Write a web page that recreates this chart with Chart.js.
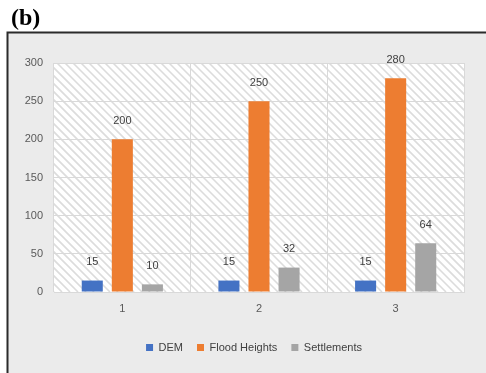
<!DOCTYPE html>
<html>
<head>
<meta charset="utf-8">
<script src="https://cdn.jsdelivr.net/npm/chart.js@4/dist/chart.umd.min.js"></script>
<style>
  html, body { margin: 0; padding: 0; background: #ffffff; }
  #wrap { position: relative; width: 486px; height: 373px; overflow: hidden; }
  #label { position: absolute; left: 11px; top: 4px; font: bold 24px "Liberation Serif", "Times New Roman", serif; color: #000; line-height: 26px; }
  canvas { position: absolute; left: 0; top: 0; }
</style>
</head>
<body>
<div id="wrap">
  <canvas id="c" width="486" height="373"></canvas>
  <div id="label">(b)</div>
</div>
<script>
const categories = ['1', '2', '3'];
const demValues = [15, 15, 15];
const floodHeights = [200, 250, 280];
const settlements = [10, 32, 64];
const yTicks = [0, 50, 100, 150, 200, 250, 300];

const bgPlugin = {
  id: 'bg',
  beforeDraw(chart) {
    const ctx = chart.ctx;
    const a = chart.chartArea;
    if (chart.legend && !chart.legend._shifted) {
      chart.legend.left += 18;
      chart.legend.right += 18;
      chart.legend._shifted = true;
    }
    ctx.save();
    ctx.fillStyle = '#ffffff';
    ctx.fillRect(0, 0, chart.width, chart.height);
    ctx.fillStyle = '#ebebeb';
    ctx.fillRect(8, 33, chart.width - 8, chart.height - 33);
    ctx.fillStyle = '#ffffff';
    ctx.fillRect(a.left, a.top, a.right - a.left, a.bottom - a.top);
    ctx.beginPath();
    ctx.rect(a.left, a.top, a.right - a.left, a.bottom - a.top);
    ctx.clip();
    ctx.strokeStyle = '#dcdcdc';
    ctx.lineWidth = 1.6;
    const h = a.bottom - a.top;
    for (let x = a.left - h; x < a.right + 8; x += 8) {
      ctx.beginPath();
      ctx.moveTo(x, a.top);
      ctx.lineTo(x + h, a.bottom);
      ctx.stroke();
    }
    ctx.restore();
    ctx.save();
    ctx.strokeStyle = '#2b2b2b';
    ctx.lineWidth = 2;
    ctx.beginPath();
    ctx.moveTo(7.5, chart.height);
    ctx.lineTo(7.5, 32.5);
    ctx.lineTo(chart.width, 32.5);
    ctx.stroke();
    ctx.restore();
  }
};

const valueLabels = {
  id: 'valueLabels',
  afterDatasetsDraw(chart) {
    const ctx = chart.ctx;
    ctx.save();
    ctx.font = '11px "Liberation Sans", Arial, sans-serif';
    ctx.fillStyle = '#404040';
    ctx.textAlign = 'center';
    ctx.textBaseline = 'middle';
    chart.data.datasets.forEach((ds, i) => {
      const meta = chart.getDatasetMeta(i);
      meta.data.forEach((bar, j) => {
        ctx.fillText(String(ds.data[j]), bar.x, bar.y - 18.5);
      });
    });
    ctx.restore();
  }
};

new Chart(document.getElementById('c'), {
  type: 'bar',
  data: {
    labels: categories,
    datasets: [
      { label: 'DEM', data: demValues, backgroundColor: '#4472C4' },
      { label: 'Flood Heights', data: floodHeights, backgroundColor: '#ED7D31' },
      { label: 'Settlements', data: settlements, backgroundColor: '#A5A5A5' }
    ]
  },
  options: {
    responsive: false,
    animation: false,
    events: [],
    datasets: { bar: { categoryPercentage: 0.66, barPercentage: 0.7 } },
    layout: { padding: { left: 8, right: 22, top: 63, bottom: 10 } },
    scales: {
      x: {
        grid: { color: '#d9d9d9', lineWidth: 1, drawTicks: false, offset: true },
        border: { color: '#d9d9d9' },
        ticks: { padding: 10, color: '#595959', font: { family: '"Liberation Sans", Arial, sans-serif', size: 11 } },
        afterFit(s) { s.height = 36; }
      },
      y: {
        min: 0, max: 300,
        afterBuildTicks(s) { s.ticks = yTicks.map(v => ({ value: v })); },
        grid: { color: '#d9d9d9', lineWidth: 1, drawTicks: false },
        border: { display: false },
        ticks: { padding: 11, color: '#595959', font: { family: '"Liberation Sans", Arial, sans-serif', size: 11 } },
        afterFit(s) { s.width = 46; }
      }
    },
    plugins: {
      legend: {
        position: 'bottom',
        labels: {
          boxWidth: 7, boxHeight: 7, padding: 14, color: '#404040',
          font: { family: '"Liberation Sans", Arial, sans-serif', size: 11 }
        }
      },
      tooltip: { enabled: false }
    }
  },
  plugins: [bgPlugin, valueLabels]
});
</script>
</body>
</html>
